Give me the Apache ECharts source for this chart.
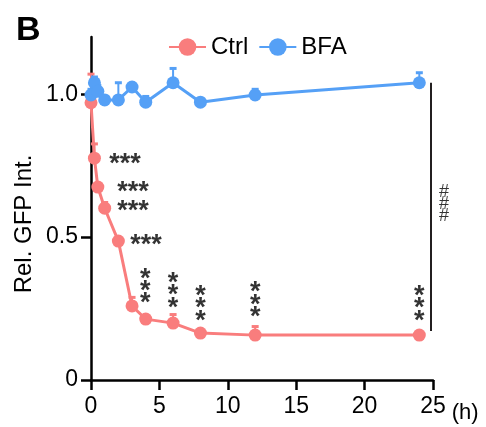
<!DOCTYPE html>
<html>
<head>
<meta charset="utf-8">
<script src="https://cdn.jsdelivr.net/npm/echarts@6/dist/echarts.min.js"></script>
<style>html,body{margin:0;padding:0;background:#fff}#c{width:486px;height:427px}</style>
</head>
<body>
<div id="c"></div>
<script>
// ---- data ----
var hours = [0, 0.25, 0.5, 1, 2, 3, 4, 6, 8, 12, 24];
var ctrlMean = [0.97, 0.776, 0.675, 0.601, 0.486, 0.259, 0.213, 0.199, 0.164, 0.157, 0.157];
var ctrlErr  = [0.10, 0.05, 0.01, 0.02, 0.01, 0.03, 0.01, 0.03, 0.01, 0.03, 0.01];
var bfaMean  = [0.997, 1.04, 1.01, 0.98, 0.98, 1.025, 0.972, 1.04, 0.972, 0.997, 1.04];
var bfaErr   = [0.02, 0.02, 0.02, 0.01, 0.06, 0.01, 0.02, 0.05, 0.01, 0.02, 0.035];
var yTicks = [0, 0.5, 1.0];
var xTicks = [0, 5, 10, 15, 20, 25];
// significance annotations
var sigH = [[1.34, 0.776], [1.92, 0.676], [1.92, 0.612], [2.87, 0.493]];
var sigV = [[3.96, 0.33], [6.0, 0.315], [8.0, 0.27], [12.0, 0.283], [24.0, 0.27]];
var bracket = [24.85, 1.04, 0.171];
var hashPos = [25, 0.615];

var RED = '#F97D7D', BLUE = '#55A0F6';

function pairs(xs, ys){ return xs.map(function(x,i){return [x, ys[i]];}); }
function errData(xs, m, e){ return xs.map(function(x,i){return [x, m[i], m[i]+e[i]];}); }

function errRender(color){
  return function(params, api){
    var x = api.value(0), lo = api.value(1), hi = api.value(2);
    var p0 = api.coord([x, lo]), p1 = api.coord([x, hi]);
    var cw = 3.5;
    return {type:'group', children:[
      {type:'line', shape:{x1:p0[0], y1:p0[1], x2:p1[0], y2:p1[1]}, style:{stroke:color, lineWidth:2}},
      {type:'line', shape:{x1:p1[0]-cw, y1:p1[1], x2:p1[0]+cw, y2:p1[1]}, style:{stroke:color, lineWidth:3}}
    ]};
  };
}

var chart = echarts.init(document.getElementById('c'), null, {renderer:'canvas'});
var FONT = 'Liberation Sans, Arial, sans-serif';
chart.setOption({
  animation:false,
  textStyle:{fontFamily:FONT},
  title:{text:'B', left:11, top:9, textStyle:{fontFamily:FONT, fontWeight:'bold', fontSize:34, color:'#000'}},
  legend:{
    top:30, left:163, itemWidth:37, itemHeight:22, itemGap:10,
    textStyle:{fontFamily:FONT, fontSize:24, color:'#000'},
    data:['Ctrl','BFA']
  },
  graphic:[{
    type:'text', x:24, y:224, rotation:Math.PI/2,
    style:{text:'Rel. GFP Int.', fontFamily:FONT, fontSize:24, fill:'#000', align:'center', verticalAlign:'middle'}
  }],
  grid:{left:91, right:53, top:37, bottom:47, containLabel:false},
  xAxis:{
    type:'value', min:0, max:25, interval:5,
    name:'(h)', nameLocation:'end', nameGap:6,
    nameTextStyle:{fontFamily:FONT, fontSize:22, color:'#000', verticalAlign:'top', padding:[22,0,0,0]},
    axisLine:{lineStyle:{color:'#000', width:2.5}},
    axisTick:{length:10, lineStyle:{color:'#000', width:2.5}},
    axisLabel:{fontFamily:FONT, fontSize:23, color:'#000', margin:15},
    splitLine:{show:false}
  },
  yAxis:{
    type:'value', min:0, max:1.2, interval:0.5,
    axisLine:{show:true, lineStyle:{color:'#000', width:2.5}},
    axisTick:{show:true, length:10, customValues:yTicks, lineStyle:{color:'#000', width:2.5}},
    axisLabel:{fontFamily:FONT, fontSize:23, color:'#000', margin:13, customValues:yTicks,
      formatter:function(v){return v===0?'0':v.toFixed(1);}},
    splitLine:{show:false}
  },
  series:[
    {type:'custom', name:'ctrlErr', renderItem:errRender(RED), data:errData(hours, ctrlMean, ctrlErr), z:1, silent:true},
    {type:'custom', name:'bfaErr', renderItem:errRender(BLUE), data:errData(hours, bfaMean, bfaErr), z:1, silent:true},
    {type:'line', name:'Ctrl', data:pairs(hours, ctrlMean), color:RED, symbol:'circle', symbolSize:13,
      lineStyle:{width:3, color:RED}, itemStyle:{color:RED}, z:3,
      markLine:{silent:true, symbol:['none','none'], label:{show:false},
        lineStyle:{color:'#231F20', width:2, type:'solid'},
        data:[[{coord:[bracket[0], bracket[1]]},{coord:[bracket[0], bracket[2]]}]]}},
    {type:'line', name:'BFA', data:pairs(hours, bfaMean), color:BLUE, symbol:'circle', symbolSize:13,
      lineStyle:{width:3, color:BLUE}, itemStyle:{color:BLUE}, z:4},
    {type:'scatter', name:'sigH', symbolSize:0, silent:true, z:5,
      data:sigH,
      label:{show:true, position:'inside', formatter:'***', color:'#000', fontFamily:FONT, fontSize:27, fontWeight:'bold',
        align:'left', verticalAlign:'middle', offset:[0,6]}},
    {type:'scatter', name:'sigV', symbolSize:0, silent:true, z:5,
      data:sigV,
      label:{show:true, position:'inside', formatter:'*\n*\n*', color:'#000', fontFamily:FONT, fontSize:27, fontWeight:'bold',
        lineHeight:12.3, align:'center', verticalAlign:'middle', offset:[0,6]}},
    {type:'scatter', name:'hash', symbolSize:0, silent:true, z:5,
      data:[hashPos],
      label:{show:true, position:'inside', formatter:'#\n#\n#', color:'#000', fontFamily:FONT, fontSize:18,
        lineHeight:12, align:'center', verticalAlign:'middle', offset:[11,0]}}
  ]
});
</script>
</body>
</html>
